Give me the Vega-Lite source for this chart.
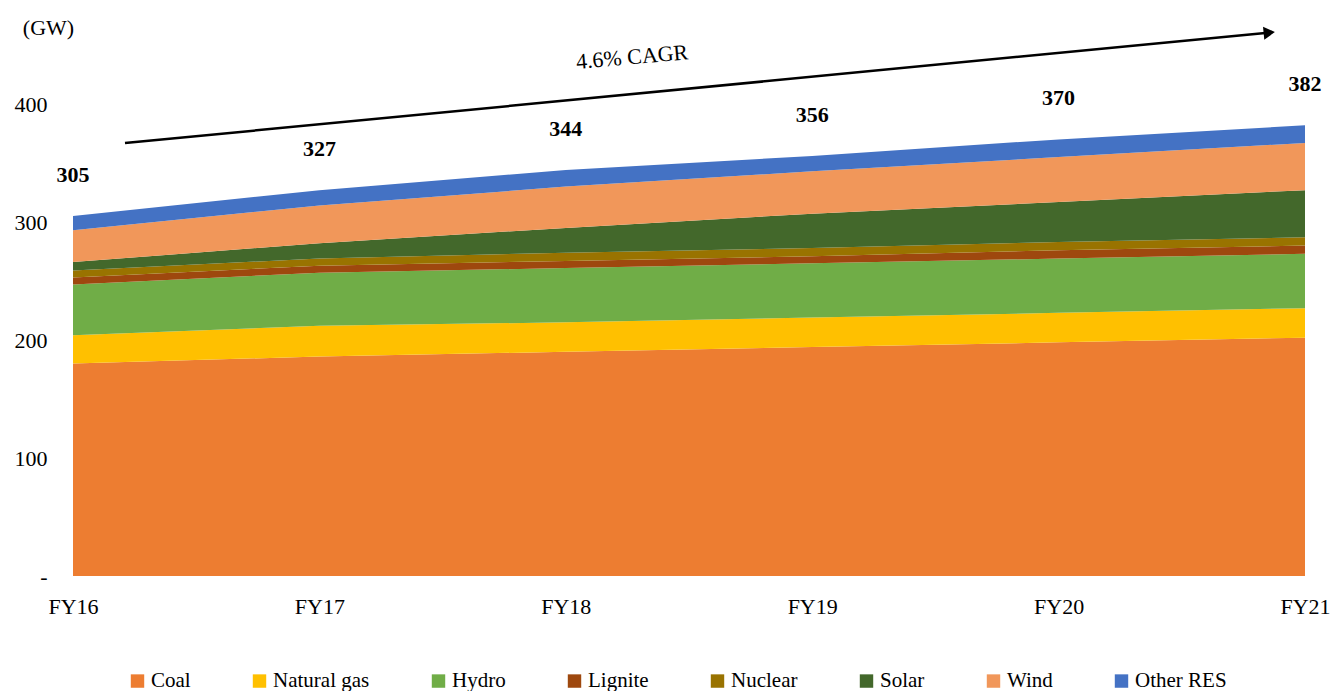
{
  "$schema": "https://vega.github.io/schema/vega-lite/v6.json",
  "autosize": {"type": "none"},
  "padding": {"left": 73, "top": 27.3, "right": 30, "bottom": 115},
  "width": 1232,
  "height": 548.7,
  "background": "white",
  "config": {
    "font": "Liberation Serif, DejaVu Serif, serif",
    "view": {"stroke": null},
    "axis": {"labelFont": "Liberation Serif, DejaVu Serif, serif", "titleFont": "Liberation Serif, DejaVu Serif, serif", "labelColor": "#000", "titleColor": "#000"},
    "legend": {"labelFont": "Liberation Serif, DejaVu Serif, serif"},
    "text": {"font": "Liberation Serif, DejaVu Serif, serif"}
  },
  "datasets": {
    "capacity": [
      {"year": 16, "source": "Coal", "gw": 180},
      {"year": 16, "source": "Natural gas", "gw": 24},
      {"year": 16, "source": "Hydro", "gw": 43},
      {"year": 16, "source": "Lignite", "gw": 6},
      {"year": 16, "source": "Nuclear", "gw": 6},
      {"year": 16, "source": "Solar", "gw": 7},
      {"year": 16, "source": "Wind", "gw": 27},
      {"year": 16, "source": "Other RES", "gw": 12},
      {"year": 17, "source": "Coal", "gw": 186},
      {"year": 17, "source": "Natural gas", "gw": 26},
      {"year": 17, "source": "Hydro", "gw": 45},
      {"year": 17, "source": "Lignite", "gw": 6},
      {"year": 17, "source": "Nuclear", "gw": 6},
      {"year": 17, "source": "Solar", "gw": 13},
      {"year": 17, "source": "Wind", "gw": 32},
      {"year": 17, "source": "Other RES", "gw": 13},
      {"year": 18, "source": "Coal", "gw": 190},
      {"year": 18, "source": "Natural gas", "gw": 25},
      {"year": 18, "source": "Hydro", "gw": 46},
      {"year": 18, "source": "Lignite", "gw": 6},
      {"year": 18, "source": "Nuclear", "gw": 7},
      {"year": 18, "source": "Solar", "gw": 21},
      {"year": 18, "source": "Wind", "gw": 35},
      {"year": 18, "source": "Other RES", "gw": 14},
      {"year": 19, "source": "Coal", "gw": 194},
      {"year": 19, "source": "Natural gas", "gw": 25},
      {"year": 19, "source": "Hydro", "gw": 46},
      {"year": 19, "source": "Lignite", "gw": 6},
      {"year": 19, "source": "Nuclear", "gw": 7},
      {"year": 19, "source": "Solar", "gw": 29},
      {"year": 19, "source": "Wind", "gw": 36},
      {"year": 19, "source": "Other RES", "gw": 13},
      {"year": 20, "source": "Coal", "gw": 198},
      {"year": 20, "source": "Natural gas", "gw": 25},
      {"year": 20, "source": "Hydro", "gw": 46},
      {"year": 20, "source": "Lignite", "gw": 7},
      {"year": 20, "source": "Nuclear", "gw": 7},
      {"year": 20, "source": "Solar", "gw": 34},
      {"year": 20, "source": "Wind", "gw": 38},
      {"year": 20, "source": "Other RES", "gw": 15},
      {"year": 21, "source": "Coal", "gw": 202},
      {"year": 21, "source": "Natural gas", "gw": 25},
      {"year": 21, "source": "Hydro", "gw": 46},
      {"year": 21, "source": "Lignite", "gw": 7},
      {"year": 21, "source": "Nuclear", "gw": 7},
      {"year": 21, "source": "Solar", "gw": 40},
      {"year": 21, "source": "Wind", "gw": 40},
      {"year": 21, "source": "Other RES", "gw": 15}
    ],
    "totals": [
      {"year": 16, "total": 305},
      {"year": 17, "total": 327},
      {"year": 18, "total": 344},
      {"year": 19, "total": 356},
      {"year": 20, "total": 370},
      {"year": 21, "total": 382}
    ]
  },
  "layer": [
    {
      "data": {"name": "capacity"},
      "transform": [
        {"calculate": "indexof(['Coal','Natural gas','Hydro','Lignite','Nuclear','Solar','Wind','Other RES'], datum.source)", "as": "stackOrder"}
      ],
      "mark": {"type": "area", "interpolate": "linear"},
      "encoding": {
        "x": {
          "field": "year", "type": "quantitative",
          "scale": {"domain": [16, 21], "nice": false, "zero": false},
          "axis": {
            "values": [16, 17, 18, 19, 20, 21],
            "labelExpr": "'FY' + datum.value",
            "title": null, "domain": false, "ticks": false, "grid": false,
            "labelFontSize": 22, "labelPadding": 20, "labelFlush": false
          }
        },
        "y": {
          "field": "gw", "type": "quantitative", "stack": "zero",
          "scale": {"domain": [0, 465], "nice": false},
          "axis": {
            "values": [0, 100, 200, 300, 400],
            "labelExpr": "datum.value == 0 ? '-\u00a0\u00a0\u00a0' : datum.label",
            "title": "(GW)", "titleAngle": 0, "titleX": -25, "titleY": 0,
            "titleAlign": "center", "titleBaseline": "middle",
            "titleFontSize": 22, "titleFontWeight": "normal",
            "domain": false, "ticks": false, "grid": false,
            "labelFontSize": 22, "labelPadding": 26
          }
        },
        "order": {"field": "stackOrder", "type": "quantitative", "sort": "ascending"},
        "color": {
          "field": "source", "type": "nominal",
          "sort": ["Coal", "Natural gas", "Hydro", "Lignite", "Nuclear", "Solar", "Wind", "Other RES"],
          "scale": {
            "domain": ["Coal", "Natural gas", "Hydro", "Lignite", "Nuclear", "Solar", "Wind", "Other RES"],
            "range": ["#ED7D31", "#FFC000", "#70AD47", "#9E480E", "#997300", "#43682B", "#F1975A", "#4472C4"]
          },
          "legend": {
            "title": null, "orient": "none", "direction": "horizontal",
            "legendX": 54, "legendY": 643,
            "symbolType": "square", "symbolSize": 180, "symbolStrokeWidth": 0,
            "labelFontSize": 21, "labelOffset": 3, "columnPadding": 58,
            "labelColor": "#000"
          }
        }
      }
    },
    {
      "data": {"name": "totals"},
      "mark": {"type": "text", "fontWeight": "bold", "fontSize": 22, "dy": -41, "color": "#000"},
      "encoding": {
        "x": {"field": "year", "type": "quantitative"},
        "y": {"field": "total", "type": "quantitative"},
        "text": {"field": "total", "type": "quantitative"}
      }
    },
    {
      "data": {"values": [{}]},
      "mark": {"type": "rule", "strokeWidth": 2.5, "color": "#000"},
      "encoding": {
        "x": {"datum": 16.211, "type": "quantitative"},
        "y": {"datum": 366.9, "type": "quantitative"},
        "x2": {"datum": 20.86},
        "y2": {"datum": 460.6}
      }
    },
    {
      "data": {"values": [{}]},
      "mark": {"type": "point", "shape": "triangle-right", "filled": true, "color": "#000", "size": 170, "angle": -5.5, "opacity": 1},
      "encoding": {
        "x": {"datum": 20.855, "type": "quantitative"},
        "y": {"datum": 460.5, "type": "quantitative"}
      }
    },
    {
      "data": {"values": [{}]},
      "mark": {"type": "text", "fontSize": 22, "angle": -5, "color": "#000", "align": "center", "baseline": "middle"},
      "encoding": {
        "x": {"datum": 18.269, "type": "quantitative"},
        "y": {"datum": 439.8, "type": "quantitative"},
        "text": {"value": "4.6% CAGR"}
      }
    }
  ]
}
